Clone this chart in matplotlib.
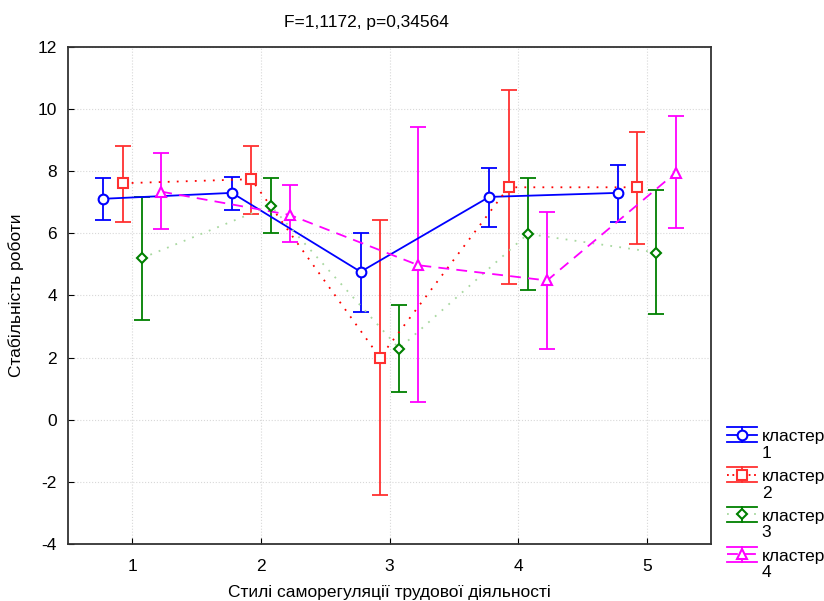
import numpy as np
import matplotlib
matplotlib.use('Agg')
import matplotlib.pyplot as plt
from matplotlib.lines import Line2D
from matplotlib.legend_handler import HandlerBase

plt.rcParams['font.family'] = ['Liberation Sans', 'DejaVu Sans']
plt.rcParams['font.size'] = 12.5
plt.rcParams['axes.unicode_minus'] = False

styles = [1, 2, 3, 4, 5]
clusters = ['кластер\n1', 'кластер\n2', 'кластер\n3', 'кластер\n4']

# means and confidence limits per cluster
mean1 = [7.11, 7.30, 4.76, 7.17, 7.30]
low1 = [6.43, 6.75, 3.47, 6.20, 6.36]
high1 = [7.78, 7.82, 6.01, 8.10, 8.20]

mean2 = [7.61, 7.74, 2.00, 7.48, 7.48]
low2 = [6.37, 6.62, -2.42, 4.36, 5.67]
high2 = [8.82, 8.82, 6.42, 10.60, 9.27]

mean3 = [5.20, 6.89, 2.29, 5.98, 5.38]
low3 = [3.21, 6.02, 0.90, 4.18, 3.40]
high3 = [7.16, 7.77, 3.69, 7.78, 7.38]

mean4 = [7.34, 6.59, 4.97, 4.48, 7.95]
low4 = [6.14, 5.71, 0.57, 2.29, 6.18]
high4 = [8.59, 7.56, 9.41, 6.69, 9.79]

means = [mean1, mean2, mean3, mean4]
lows = [low1, low2, low3, low4]
highs = [high1, high2, high3, high4]

offsets = [-0.225, -0.075, 0.075, 0.225]
lineCol = ['#0000ff', '#ff0000', '#a8d8a0', '#ff00ff']
barCol = ['#0000ff', '#ff3030', '#008000', '#ff00ff']
markL = ['o', 's', 'D', '^']
msL = [7, 7, 5.5, 7.5]
lsL = ['-', (0, (1, 4)), (0, (1, 4)), (0, (6, 4))]


class ErrKey(object):
    def __init__(self, i):
        self.i = i


class ErrKeyHandler(HandlerBase):
    # key: two full-width caps, short stem, style line and marker,
    # lined up with the first text line
    def create_artists(self, legend, orig, xd, yd, w, h, fs, trans):
        i = orig.i
        yc = -yd + h / 2.0 + fs * 0.6
        top, bot = yc + 5.5, yc - 5.5
        arts = [Line2D([-xd, -xd + w], [top, top], color=barCol[i], lw=1.3),
                Line2D([-xd, -xd + w], [bot, bot], color=barCol[i], lw=1.3),
                Line2D([-xd + w / 2] * 2, [bot, top], color=barCol[i], lw=1.3),
                Line2D([-xd, -xd + w], [yc, yc], color=lineCol[i], lw=1.3,
                       linestyle=lsL[i] if i != 1 else (0, (1, 2))),
                Line2D([-xd + w / 2], [yc], linestyle='none', marker=markL[i],
                       markersize=msL[i], markerfacecolor='white',
                       markeredgecolor=barCol[i], markeredgewidth=1.5)]
        for a in arts:
            a.set_transform(trans)
        return arts


fig = plt.figure(figsize=(8.24, 6.01), dpi=100)
ax = fig.add_axes([0.0825, 0.095, 0.7805, 0.827])

for i in range(4):
    x = np.array(styles) + offsets[i]
    m = np.array(means[i])
    yerr = [m - np.array(lows[i]), np.array(highs[i]) - m]
    ax.errorbar(x, m, yerr=yerr, fmt='none', ecolor=barCol[i],
                elinewidth=1.3, capsize=6, capthick=1.3, zorder=2)
    ax.plot(x, m, color=lineCol[i], linestyle=lsL[i], linewidth=1.3, zorder=3)
    ax.plot(x, m, linestyle='none', marker=markL[i], markersize=msL[i],
            markerfacecolor='white', markeredgecolor=barCol[i],
            markeredgewidth=1.5, zorder=4)

ax.set_xlim(0.5, 5.5)
ax.set_ylim(-4, 12)
ax.set_xticks(styles)
ax.set_yticks(np.arange(-4, 13, 2))
ax.tick_params(direction='in', length=4, labelsize=12.5, pad=8)
ax.tick_params(axis='x', pad=11)
ax.grid(True, color='#d8d8d8', linestyle=':', linewidth=0.8)
for s in ax.spines.values():
    s.set_color('#333333')
    s.set_linewidth(1.3)

fig.text(366 / 824, 1 - 22 / 601, 'F=1,1172, p=0,34564', fontsize=12.5,
         ha='center', va='center')
ax.set_xlabel('Стилі саморегуляції трудової діяльності', fontsize=12.5, labelpad=8)
ax.set_ylabel('Стабільність роботи', fontsize=12.5, labelpad=10)

keys = [ErrKey(i) for i in range(4)]
leg = fig.legend(keys, clusters, handler_map={ErrKey: ErrKeyHandler()},
                 loc='upper left', bbox_to_anchor=(0.874, 0.297),
                 frameon=False, fontsize=12.5, handlelength=1.7, handleheight=1.0,
                 handletextpad=0.3, labelspacing=0.5, borderaxespad=0)
for t in leg.get_texts():
    t.set_linespacing(1.1)

plt.savefig('out.png', dpi=100)
